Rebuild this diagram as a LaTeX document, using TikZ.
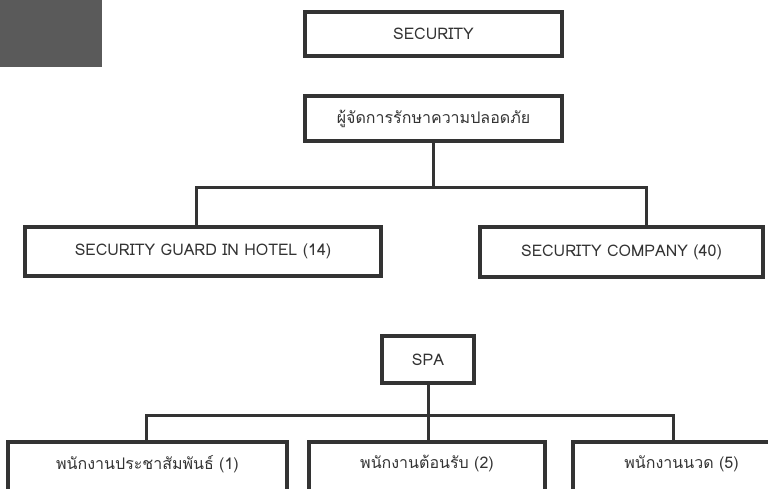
\documentclass[tikz,border=0pt]{standalone}
\usepackage{fontspec}
\setmainfont[Script=Thai]{Loma}
\usepackage{tikz}
\usetikzlibrary{positioning}
\definecolor{inkgray}{HTML}{333333}
\definecolor{blockgray}{HTML}{5A5A5A}

\begin{document}
\begin{tikzpicture}[
    x=1pt, y=-1pt,
    font=\fontsize{16}{18}\selectfont,
    orgbox/.style={rectangle, draw=inkgray, line width=3.5pt, text=inkgray, inner sep=0pt},
    link/.style={draw=inkgray, line width=3pt}
]
    \clip (0,0) rectangle (768,488);
    \useasboundingbox (0,0) rectangle (768,488);
    \fill[blockgray] (0,0) rectangle (102,67);

    % security branch
    \node (sec) [orgbox, minimum width=257pt, minimum height=44pt] at (433.5,34) {SECURITY};
    \node (mgr) [orgbox, minimum width=257pt, minimum height=45pt] at (433.5,118.5) {ผู้จัดการรักษาความปลอดภัย};
    \node (guard) [orgbox, minimum width=356pt, minimum height=49pt] at (203,251.5) {SECURITY GUARD IN HOTEL (14)};
    \node (company) [orgbox, minimum width=283pt, minimum height=50pt] at (621.5,252) {SECURITY COMPANY (40)};

    % spa branch
    \node (spa) [orgbox, minimum width=92pt, minimum height=47pt] at (428,359.5) {SPA};
    \node (pr) [orgbox, minimum width=279pt, minimum height=56pt, text depth=16pt] at (147.5,470) {พนักงานประชาสัมพันธ์ (1)};
    \node (recept) [orgbox, minimum width=236pt, minimum height=56pt, text depth=16pt] at (427,470) {พนักงานต้อนรับ (2)};
    \node (massage) [orgbox, minimum width=217pt, minimum height=56pt, text depth=16pt] at (681.5,470) {พนักงานนวด (5)};

    \coordinate (jl) at (196,187);
    \coordinate (jr) at (646,187);
    \coordinate (sl) at (146,415);
    \coordinate (sr) at (673,415);

    \draw [link] (mgr.south) -- (mgr.south |- jl);
    \draw [link] (jl |- guard.north) -- (jl) -- (jr) -- (jr |- company.north);
    \draw [link] (spa.south) -- (spa.south |- sl);
    \draw [link] (sl |- pr.north) -- (sl) -- (sr) -- (sr |- massage.north);
    \draw [link] (spa.south |- sl) -- (spa.south |- recept.north);
\end{tikzpicture}
\end{document}
